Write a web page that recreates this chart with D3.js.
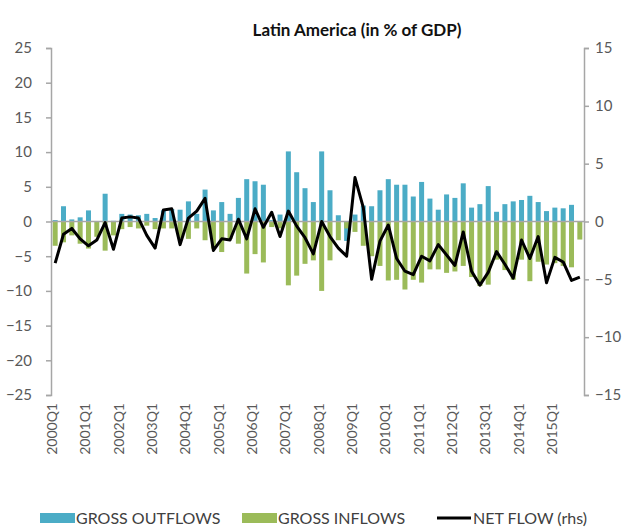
<!DOCTYPE html>
<html>
<head>
<meta charset="utf-8">
<script src="https://cdn.jsdelivr.net/npm/d3@7"></script>
<style>
  body { margin: 0; background: #fff; }
  text { font-family: Lato, "Open Sans", sans-serif; }
</style>
</head>
<body>
<div id="chart"></div>
<script>
// quarters 2000Q1 .. 2015Q4
const years = d3.range(2000, 2016);
const quarters = years.flatMap(y => ["Q1", "Q2", "Q3", "Q4"].map(q => y + q));

// gross outflows (% of GDP, lhs)
const outflows = [
  0.2, 2.2, 0.3, 0.6, 1.6, 0.0, 4.0, 0.1,
  1.1, 1.0, 0.9, 1.1, 0.5, 1.6, 1.8, 1.7,
  2.9, 1.1, 4.6, 1.6, 2.8, 1.1, 3.4, 6.1,
  5.8, 5.3, 0.2, 1.0, 10.1, 7.1, 4.8, 2.8,
  10.1, 4.5, 0.9, -2.8, 1.0, 2.3, 2.2, 4.5,
  6.1, 5.3, 5.3, 3.6, 5.7, 3.3, 1.7, 3.9,
  3.4, 5.5, 2.0, 2.5, 5.1, 1.4, 2.5, 2.9,
  3.1, 3.7, 2.8, 1.5, 2.0, 1.9, 2.4, 0.0
];

// gross inflows (% of GDP, lhs)
const inflows = [
  -3.5, -3.0, -2.0, -3.2, -3.9, -2.2, -4.2, -2.0,
  -1.1, -0.8, -1.0, -0.6, -1.1, -1.0, -1.0, -2.4,
  -2.5, -1.0, -2.7, -3.9, -4.4, -2.5, -3.2, -7.5,
  -4.7, -5.9, -0.8, -1.0, -9.2, -7.8, -6.1, -5.6,
  -10.0, -5.6, -2.7, -1.0, -1.5, -3.5, -5.0, -6.4,
  -8.5, -8.4, -9.8, -8.4, -8.8, -6.9, -6.9, -7.4,
  -7.2, -6.4, -8.0, -9.3, -9.1, -5.5, -7.0, -8.4,
  -5.5, -8.6, -5.8, -6.2, -6.0, -6.4, -6.6, -2.6
];

// net flow (% of GDP, rhs)
const netFlow = [
  -3.6, -1.1, -0.6, -1.5, -2.1, -1.6, -0.1, -2.4,
  0.3, 0.4, 0.3, -1.2, -2.3, 1.0, 1.1, -2.0,
  0.3, 0.9, 2.0, -2.5, -1.5, -1.6, 0.2, -1.5,
  1.1, -0.5, 0.8, -1.3, 0.9, -0.4, -1.4, -2.8,
  0.0, -1.3, -2.3, -3.0, 3.8, 1.2, -5.0, -1.7,
  -0.3, -3.2, -4.3, -4.6, -3.0, -3.4, -2.0, -2.9,
  -3.8, -0.9, -4.3, -5.5, -4.4, -2.6, -3.7, -4.9,
  -1.6, -3.2, -1.3, -5.3, -3.1, -3.5, -5.1, -4.8
];

const leftTicks = [25, 20, 15, 10, 5, 0, -5, -10, -15, -20, -25];
const rightTicks = [15, 10, 5, 0, -5, -10, -15];
const legendItems = ["GROSS OUTFLOWS", "GROSS INFLOWS", "NET FLOW (rhs)"];

const width = 636, height = 529;
const margin = { top: 48, right: 52, bottom: 134, left: 51 };
const blue = "#4bacc6", green = "#9bbb59", axisColor = "#a6a6a6", textColor = "#595959";

const svg = d3.select("#chart").append("svg")
  .attr("width", width)
  .attr("height", height);

const x = d3.scaleBand()
  .domain(quarters)
  .range([margin.left, width - margin.right])
  .paddingInner(0.4)
  .paddingOuter(0.2);

const yL = d3.scaleLinear().domain([-25, 25]).range([height - margin.bottom, margin.top]);
const yR = d3.scaleLinear().domain([-15, 15]).range([height - margin.bottom, margin.top]);

// title
svg.append("text")
  .attr("x", 357)
  .attr("y", 36)
  .attr("text-anchor", "middle")
  .attr("font-size", 17)
  .attr("font-weight", "bold")
  .attr("fill", "#111")
  .text("Latin America (in % of GDP)");

// bars
svg.append("g").selectAll("rect")
  .data(quarters.map((q, i) => ({ q, v: outflows[i] })))
  .join("rect")
  .attr("x", d => x(d.q))
  .attr("width", x.bandwidth())
  .attr("y", d => yL(Math.max(0, d.v)))
  .attr("height", d => Math.abs(yL(d.v) - yL(0)))
  .attr("fill", blue);

svg.append("g").selectAll("rect")
  .data(quarters.map((q, i) => ({ q, v: inflows[i] })))
  .join("rect")
  .attr("x", d => x(d.q))
  .attr("width", x.bandwidth())
  .attr("y", d => yL(Math.max(0, d.v)))
  .attr("height", d => Math.abs(yL(d.v) - yL(0)))
  .attr("fill", green);

// zero line
svg.append("line")
  .attr("x1", margin.left).attr("x2", width - margin.right)
  .attr("y1", yL(0)).attr("y2", yL(0))
  .attr("stroke", axisColor).attr("stroke-width", 1.5);

// left axis
const gL = svg.append("g")
  .attr("transform", `translate(${margin.left},0)`)
  .call(d3.axisLeft(yL).tickValues(leftTicks).tickSize(5).tickPadding(14));
gL.selectAll("path, line").attr("stroke", axisColor).attr("stroke-width", 1.5);
gL.selectAll("text").attr("font-size", 15).attr("fill", textColor)
  .attr("font-family", "Lato, 'Open Sans', sans-serif");

// right axis
const gR = svg.append("g")
  .attr("transform", `translate(${width - margin.right},0)`)
  .call(d3.axisRight(yR).tickValues(rightTicks).tickSize(5).tickPadding(6));
gR.selectAll("path, line").attr("stroke", axisColor).attr("stroke-width", 1.5);
gR.selectAll("text").attr("font-size", 15).attr("fill", textColor)
  .attr("font-family", "Lato, 'Open Sans', sans-serif");

// x labels (every Q1)
svg.append("g").selectAll("text")
  .data(quarters.filter(q => q.endsWith("Q1")))
  .join("text")
  .attr("transform", d => `translate(${x(d) + x.bandwidth() / 2 + 2},${yL(-25) + 8}) rotate(-90)`)
  .attr("text-anchor", "end")
  .attr("font-size", 14)
  .attr("fill", textColor)
  .text(d => d);

// net flow line
const line = d3.line()
  .x((d, i) => x(quarters[i]) + x.bandwidth() / 2)
  .y(d => yR(d));

svg.append("path")
  .datum(netFlow)
  .attr("d", line)
  .attr("fill", "none")
  .attr("stroke", "#000")
  .attr("stroke-width", 3)
  .attr("stroke-linejoin", "round");

// legend
const legend = svg.append("g").attr("transform", "translate(0,518)");
const lx = [40, 242, 437];
legendItems.forEach((name, i) => {
  const g = legend.append("g").attr("transform", `translate(${lx[i]},0)`);
  if (i < 2) {
    g.append("rect").attr("x", 0).attr("y", -5).attr("width", 35).attr("height", 10)
      .attr("fill", i === 0 ? blue : green);
  } else {
    g.append("line").attr("x1", 0).attr("x2", 34).attr("y1", 0).attr("y2", 0)
      .attr("stroke", "#000").attr("stroke-width", 3);
  }
  g.append("text").attr("x", 36).attr("y", 6)
    .attr("font-size", 16).attr("fill", "#404040").text(name);
});
</script>
</body>
</html>
